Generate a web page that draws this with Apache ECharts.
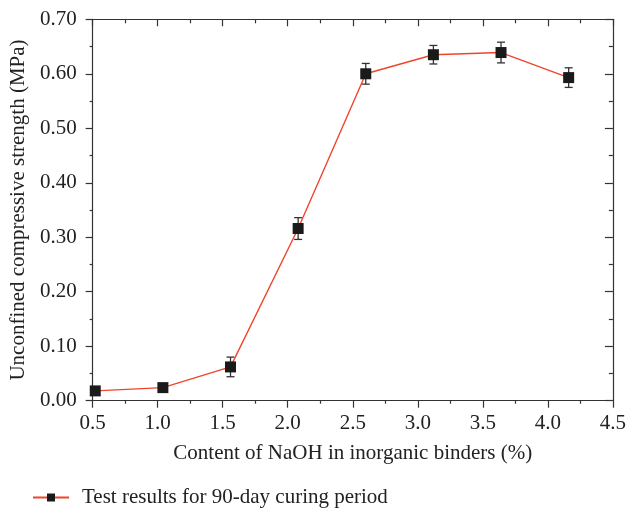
<!DOCTYPE html>
<html>
<head>
<meta charset="utf-8">
<script src="https://cdn.jsdelivr.net/npm/echarts@6/dist/echarts.min.js"></script>
<style>html,body{margin:0;padding:0;background:#fff;}#c{width:629px;height:508px;}</style>
</head>
<body>
<div id="c"></div>
<script>
var naohContent = [0.52, 1.04, 1.56, 2.08, 2.60, 3.12, 3.64, 4.16];
var strength = [0.018, 0.024, 0.062, 0.316, 0.600, 0.635, 0.639, 0.593];
var errorValue = [0.004, 0.004, 0.018, 0.020, 0.019, 0.017, 0.019, 0.018];
var xTicks = [0.5, 1.0, 1.5, 2.0, 2.5, 3.0, 3.5, 4.0, 4.5];
var yTicks = [0.00, 0.10, 0.20, 0.30, 0.40, 0.50, 0.60, 0.70];
var seriesName = 'Test results for 90-day curing period';

var font = 'Liberation Serif';
var fs = 21;
var axisCol = '#333';
var lineData = naohContent.map(function (x, i) { return [x, strength[i]]; });
var errData = naohContent.map(function (x, i) { return [x, strength[i] - errorValue[i], strength[i] + errorValue[i]]; });

var chart = echarts.init(document.getElementById('c'), null, {renderer: 'canvas'});
chart.setOption({
  animation: false,
  backgroundColor: '#fff',
  grid: {left: 92.5, right: 14.7, top: 19.3, bottom: 107.3, containLabel: false},
  legend: {
    left: 27, top: 482,
    itemWidth: 36, itemHeight: 10, itemGap: 10,
    textStyle: {fontFamily: font, fontSize: fs, color: '#222', padding: [0, 0, 0, 8]},
    data: [seriesName]
  },
  xAxis: [{
    type: 'value', position: 'bottom', min: xTicks[0], max: xTicks[xTicks.length - 1], interval: 0.5,
    name: 'Content of NaOH in inorganic binders (%)', nameLocation: 'middle', nameGap: 42,
    nameTextStyle: {fontFamily: font, fontSize: fs, color: '#222'},
    axisLine: {onZero: false, lineStyle: {color: axisCol, width: 1.2}},
    axisTick: {inside: false, length: 7, lineStyle: {color: axisCol, width: 1.2}},
    minorTick: {show: true, splitNumber: 2, length: 3, lineStyle: {color: axisCol, width: 1.2}},
    axisLabel: {fontFamily: font, fontSize: fs, color: '#222', margin: 12, formatter: function (v) { return v.toFixed(1); }},
    splitLine: {show: false}
  }, {
    type: 'value', position: 'top', min: xTicks[0], max: xTicks[xTicks.length - 1], interval: 0.5,
    axisLine: {onZero: false, lineStyle: {color: axisCol, width: 1.2}},
    axisTick: {inside: true, length: 7, lineStyle: {color: axisCol, width: 1.2}},
    minorTick: {show: true, splitNumber: 2, length: 4, lineStyle: {color: axisCol, width: 1.2}},
    axisLabel: {show: false}, splitLine: {show: false}
  }],
  yAxis: [{
    type: 'value', position: 'left', min: yTicks[0], max: yTicks[yTicks.length - 1], interval: 0.1,
    name: 'Unconfined compressive strength (MPa)', nameLocation: 'middle', nameGap: 60,
    nameTextStyle: {fontFamily: font, fontSize: fs, color: '#222'},
    axisLine: {onZero: false, lineStyle: {color: axisCol, width: 1.2}},
    axisTick: {inside: false, length: 7, lineStyle: {color: axisCol, width: 1.2}},
    minorTick: {show: true, splitNumber: 2, length: 3, lineStyle: {color: axisCol, width: 1.2}},
    axisLabel: {fontFamily: font, fontSize: fs, color: '#222', margin: 16, formatter: function (v) { return v.toFixed(2); }},
    splitLine: {show: false}
  }, {
    type: 'value', position: 'right', min: yTicks[0], max: yTicks[yTicks.length - 1], interval: 0.1,
    axisLine: {onZero: false, lineStyle: {color: axisCol, width: 1.2}},
    axisTick: {inside: true, length: 8, lineStyle: {color: axisCol, width: 1.2}},
    minorTick: {show: true, splitNumber: 2, length: 4, lineStyle: {color: axisCol, width: 1.2}},
    axisLabel: {show: false}, splitLine: {show: false}
  }],
  series: [{
    type: 'custom', name: 'err', xAxisIndex: 0, yAxisIndex: 0, z: 3,
    renderItem: function (params, api) {
      var lo = api.coord([api.value(0), api.value(1)]);
      var hi = api.coord([api.value(0), api.value(2)]);
      var hw = 4;
      var st = {stroke: '#333', lineWidth: 1.3, fill: null};
      return {type: 'group', children: [
        {type: 'line', shape: {x1: lo[0], y1: lo[1], x2: hi[0], y2: hi[1]}, style: st},
        {type: 'line', shape: {x1: lo[0] - hw, y1: lo[1], x2: lo[0] + hw, y2: lo[1]}, style: st},
        {type: 'line', shape: {x1: hi[0] - hw, y1: hi[1], x2: hi[0] + hw, y2: hi[1]}, style: st}
      ]};
    },
    encode: {x: 0, y: [1, 2]},
    data: errData
  }, {
    type: 'line', name: seriesName, xAxisIndex: 0, yAxisIndex: 0, z: 4,
    data: lineData,
    symbol: 'rect', symbolSize: 11,
    lineStyle: {color: '#f0452b', width: 1.4},
    itemStyle: {color: '#1a1a1a'}
  }]
});
</script>
</body>
</html>
